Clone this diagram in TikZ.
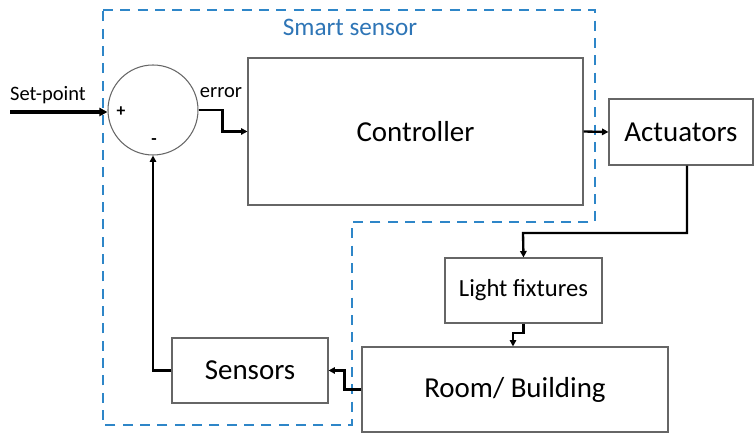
\documentclass[tikz,border=0pt]{standalone}
\usepackage{fontspec}
\setmainfont{Carlito}
\usetikzlibrary{arrows.meta}
\definecolor{smartblue}{HTML}{2E86C8}
\definecolor{labelblue}{HTML}{2E75B6}
\tikzset{
  blk/.style={draw=black!60, line width=0.9pt, rectangle, inner sep=0pt},
  flow/.style={line width=2pt, -{Triangle[length=5.5pt,width=5.5pt]}},
  bigflow/.style={line width=3.2pt, -{Triangle[length=7pt,width=7pt]}},
  smart/.style={draw=smartblue, line width=2.1pt, dash pattern=on 0.3cm off 0.22cm},
}

\begin{document}
\begin{tikzpicture}[x=0.03cm, y=-0.03cm]
\useasboundingbox (0,0) rectangle (755,433);
\draw[smart] (103,10) -- (595,10) -- (595,222) -- (352,222) -- (352,425) -- (103,425) -- cycle;
\node[text=labelblue, font=\fontsize{21.5}{25}\selectfont] (smartlbl) at (350,27) {Smart sensor};
\node[blk, circle, minimum size=2.7cm] (sum) at (153,110) {};
\node[font=\bfseries\fontsize{15}{18}\selectfont] (plus) at (121,112) {+};
\node[font=\bfseries\fontsize{15}{18}\selectfont] (minus) at (154,142) {-};
\node[blk, minimum width=10.05cm, minimum height=4.41cm, font=\fontsize{24.7}{29}\selectfont] (ctrl) at (415.5,131.5) {Controller};
\node[blk, minimum width=4.32cm, minimum height=1.98cm, font=\fontsize{24.7}{29}\selectfont] (act) at (681,132) {Actuators};
\node[blk, minimum width=4.71cm, minimum height=1.95cm, font=\fontsize{21}{25}\selectfont] (light) at (523.5,290.5) {Light fixtures};
\node[blk, minimum width=9.18cm, minimum height=2.55cm, font=\fontsize{24.7}{29}\selectfont] (room) at (515,389.5) {Room/ Building};
\node[blk, minimum width=4.68cm, minimum height=1.95cm, font=\fontsize{24.7}{29}\selectfont] (sens) at (250,370.5) {Sensors};
\node[font=\fontsize{17.5}{21}\selectfont] (splbl) at (48,95) {Set-point};
\node[font=\fontsize{17.5}{21}\selectfont] (errlbl) at (221,93) {error};
\coordinate (sp) at (10,112);
\coordinate (turnA) at (523,233);
\coordinate (turnB) at (513,333);
\draw[bigflow] (sp) -- (sp -| sum.west);
\draw[flow] (sum.east) -- ++(24,0) |- (ctrl.west);
\draw[flow] (ctrl.east) -- (act.west);
\draw[flow] ([xshift=0.18cm]act.south) |- (turnA) -- (light.north);
\draw[flow] (light.south) |- (turnB) -- (turnB |- room.north);
\draw[flow] (room.west) -- ++(-17,0) |- (sens.east);
\draw[flow] (sens.west) -| (sum.south);
\end{tikzpicture}
\end{document}
